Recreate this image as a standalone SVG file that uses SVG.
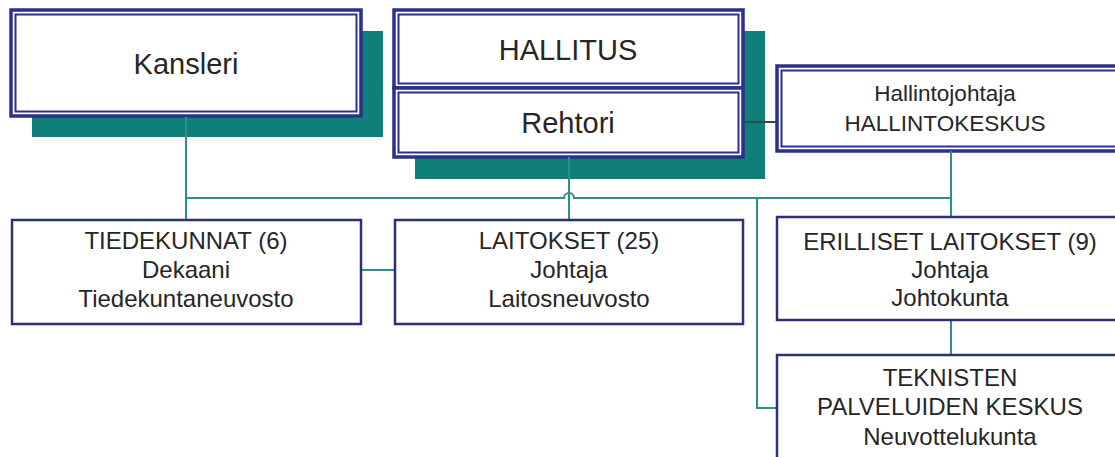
<svg xmlns="http://www.w3.org/2000/svg" width="1115" height="457" viewBox="0 0 1115 457">
<style>
.shadow{fill:#0f7f7a}
.outer{fill:#fff;stroke:#2d2f8c;stroke-width:3.5}
.inner{fill:none;stroke:#2d2f8c;stroke-width:2}
.box{fill:#fff;stroke:#2d2f7a;stroke-width:2.5}
.conn{fill:none;stroke:#2e8f8a;stroke-width:2}
.dark{fill:none;stroke:#2f4a4a;stroke-width:2}
text{font-family:"Liberation Sans",Arial,sans-serif;fill:#262626;text-anchor:middle}
.big{font-size:29px}
.mid{font-size:22.5px}
.small{font-size:24px}
</style>
<rect width="1115" height="457" fill="#fff"/>
<g id="shadows">
<rect class="shadow" x="32" y="31" width="351" height="106"/>
<rect class="shadow" x="415" y="31" width="350" height="148"/>
</g>
<g id="kansleri">
<rect class="outer" x="11" y="10" width="350" height="106"/>
<rect class="inner" x="15.5" y="14.5" width="341" height="97"/>
<text class="big" x="186" y="74">Kansleri</text>
</g>
<g id="hallitus">
<rect class="outer" x="394" y="10" width="349" height="78"/>
<rect class="inner" x="398.5" y="14.5" width="340" height="69"/>
<text class="big" x="568" y="60">HALLITUS</text>
</g>
<g id="rehtori">
<rect class="outer" x="394" y="88" width="349" height="69"/>
<rect class="inner" x="398.5" y="92.5" width="340" height="60"/>
<text class="big" x="568" y="133">Rehtori</text>
</g>
<g id="hallintokeskus">
<rect class="outer" x="777" y="66" width="350" height="85"/>
<rect class="inner" x="781.5" y="70.5" width="345" height="76"/>
<text class="mid" x="945" y="101">Hallintojohtaja</text>
<text class="mid" x="945" y="131">HALLINTOKESKUS</text>
</g>
<g id="connectors">
<path class="dark" d="M743,122 H777"/>
<path class="conn" d="M186,117 V220"/>
<path class="conn" d="M186,198 H564 a5,5 0 0 1 10,0 H951"/>
<path class="conn" d="M569,157 V220"/>
<path class="conn" d="M951,151 V217"/>
<path class="conn" d="M757,198 V408 H777"/>
<path class="conn" d="M951,320 V355"/>
<path class="conn" d="M361,270 H395"/>
</g>
<g id="tiedekunnat">
<rect class="box" x="12" y="220" width="349" height="104"/>
<text class="small" x="186" y="249">TIEDEKUNNAT (6)</text>
<text class="small" x="186" y="278">Dekaani</text>
<text class="small" x="186" y="307">Tiedekuntaneuvosto</text>
</g>
<g id="laitokset">
<rect class="box" x="395" y="220" width="348" height="104"/>
<text class="small" x="569" y="249">LAITOKSET (25)</text>
<text class="small" x="569" y="278">Johtaja</text>
<text class="small" x="569" y="307">Laitosneuvosto</text>
</g>
<g id="erilliset">
<rect class="box" x="777" y="217" width="350" height="103"/>
<text class="small" x="950" y="250">ERILLISET LAITOKSET (9)</text>
<text class="small" x="950" y="278">Johtaja</text>
<text class="small" x="950" y="306">Johtokunta</text>
</g>
<g id="teknisten">
<rect class="box" x="777" y="355" width="350" height="110"/>
<text class="small" x="950" y="386">TEKNISTEN</text>
<text class="small" x="950" y="415">PALVELUIDEN KESKUS</text>
<text class="small" x="950" y="445">Neuvottelukunta</text>
</g>
</svg>
